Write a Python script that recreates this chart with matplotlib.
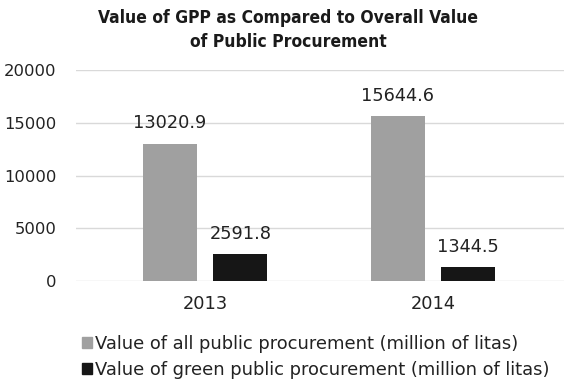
import matplotlib.pyplot as plt
from matplotlib.patches import Patch

years = ["2013", "2014"]
all_pp = [13020.9, 15644.6]
green_pp = [2591.8, 1344.5]
series_names = [
    "Value of all public procurement (million of litas)",
    "Value of green public procurement (million of litas)",
]
yticks = [0, 5000, 10000, 15000, 20000]

GREY = "#a0a0a0"
BLACK = "#161616"
BODY = "DejaVu Sans"

fig = plt.figure(figsize=(5.64, 3.84), dpi=100)
ax = fig.add_axes([76 / 564, 1 - 281 / 384, 488 / 564, 211 / 384])

x = range(len(years))
w = 0.237
off = 0.155
bars_a = ax.bar([i - off for i in x], all_pp, width=w, color=GREY, zorder=2)
bars_g = ax.bar([i + off for i in x], green_pp, width=w, color=BLACK, zorder=2)

for bars, vals in ((bars_a, all_pp), (bars_g, green_pp)):
    for b, v in zip(bars, vals):
        ax.annotate(f"{v:.1f}", (b.get_x() + b.get_width() / 2, v),
                    xytext=(0, 14.5), textcoords="offset points",
                    ha="center", va="center", fontsize=12.8, family=BODY,
                    color="#222222")

ax.set_xlim(-0.566, 1.575)
ax.set_ylim(0, 20000)
ax.set_yticks(yticks)
ax.set_yticklabels([str(t) for t in yticks], fontsize=11.8, family=BODY, color="#222222")
ax.set_xticks(list(x))
ax.set_xticklabels(years, fontsize=12.8, family=BODY, color="#222222")
ax.tick_params(length=0)
ax.tick_params(axis="y", pad=14)
ax.tick_params(axis="x", pad=10)
ax.grid(axis="y", color="#d9d9d9", linewidth=1, zorder=0)
for s in ax.spines.values():
    s.set_visible(False)

fig.text(0.511, 1 - 30 / 384, "Value of GPP as Compared to Overall Value\nof Public Procurement",
         ha="center", va="center", fontsize=12.5, fontweight="bold",
         family="DejaVu Sans", fontstretch="condensed", linespacing=1.45, color="#1a1a1a")

handles = [Patch(color=GREY), Patch(color=BLACK)]
fig.legend(handles, series_names, loc="upper left", bbox_to_anchor=(82 / 564, 1 - 335 / 384),
           frameon=False, prop={"family": BODY, "size": 12.9}, handlelength=0.55,
           handleheight=0.55, handletextpad=0.2, labelspacing=0.45, borderaxespad=0,
           borderpad=0, labelcolor="#222222")

fig.savefig("out.png", dpi=100, facecolor="white")
